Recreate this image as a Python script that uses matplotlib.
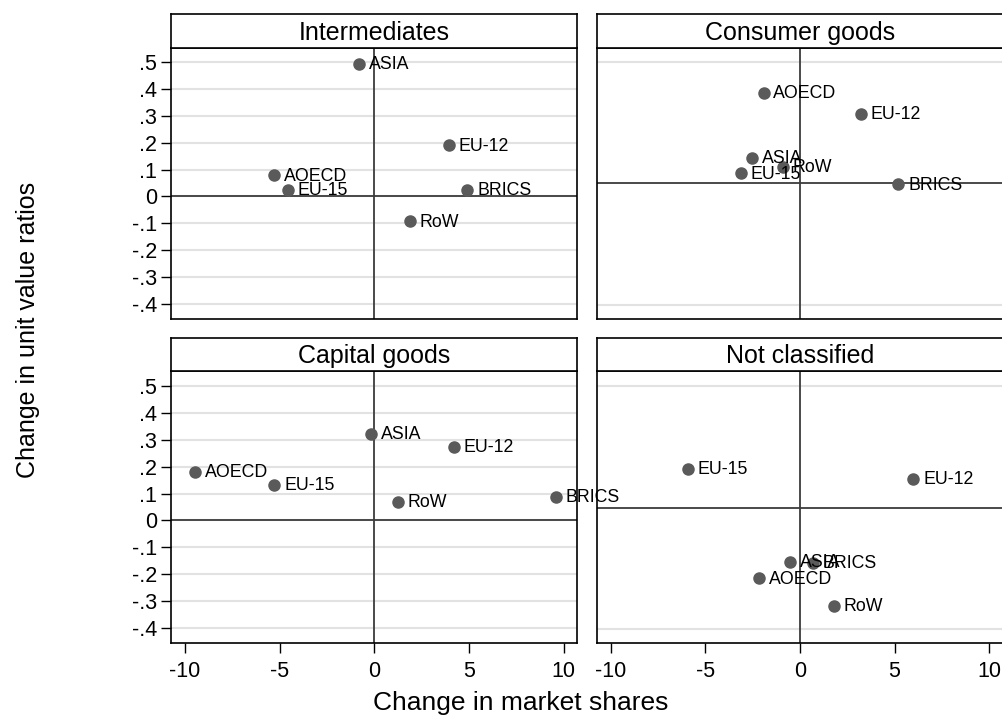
import matplotlib
matplotlib.use("Agg")
import matplotlib.pyplot as plt

plt.rcParams["font.family"] = ["Liberation Sans", "DejaVu Sans"]
plt.rcParams["axes.unicode_minus"] = False

panel_titles = ["Intermediates", "Consumer goods", "Capital goods", "Not classified"]
regions = ["ASIA", "EU-12", "AOECD", "EU-15", "BRICS", "RoW"]

# change in market shares (x) and change in unit value ratios (y), per panel
inter_x = [-0.78, 3.93, -5.27, -4.57, 4.92, 1.90]
inter_y = [0.492, 0.190, 0.078, 0.024, 0.024, -0.093]
consumer_x = [-2.52, 3.21, -1.92, -3.12, 5.20, -0.92]
consumer_y = [0.105, 0.288, 0.373, 0.041, -0.004, 0.068]
capital_x = [-0.17, 4.20, -9.47, -5.27, 9.61, 1.23]
capital_y = [0.321, 0.274, 0.181, 0.131, 0.089, 0.069]
notcl_x = [-0.53, 5.99, -2.17, -5.94, 0.67, 1.78]
notcl_y = [-0.222, 0.118, -0.291, 0.159, -0.226, -0.405]

y_ticks = [0.5, 0.4, 0.3, 0.2, 0.1, 0, -0.1, -0.2, -0.3, -0.4]
y_ticklabels = [".5", ".4", ".3", ".2", ".1", "0", "-.1", "-.2", "-.3", "-.4"]
x_ticks = [-10, -5, 0, 5, 10]
right_grid = [0.5, -0.5]

W, H = 1003, 717
fig = plt.figure(figsize=(W / 100, H / 100), dpi=100)


def px_axes(x0, y0, x1, y1):
    return fig.add_axes([x0 / W, 1 - y1 / H, (x1 - x0) / W, (y1 - y0) / H])


panels = [
    (inter_x, inter_y, (170.7, 577.0), (48.0, 319.0), (14.0, 48.0), "left", "top", (-0.456, 0.552)),
    (consumer_x, consumer_y, (596.7, 1002.6), (48.0, 319.0), (14.0, 48.0), "right", "top", (-0.559, 0.558)),
    (capital_x, capital_y, (170.7, 577.0), (370.7, 643.3), (338.0, 370.7), "left", "bottom", (-0.458, 0.558)),
    (notcl_x, notcl_y, (596.7, 1002.6), (370.7, 643.3), (338.0, 370.7), "right", "bottom", (-0.558, 0.564)),
]

dot_col = "#5a5a5a"
grid_col = "#e2e2e2"
ref_col = "#3c3c3c"

axes = []
for i, (xs, ys, xr, yr, tr, side, row, ylim) in enumerate(panels):
    ax = px_axes(xr[0], yr[0], xr[1], yr[1])
    ax.set_facecolor("none")
    ax.set_xlim(-10.75, 10.71)
    ax.set_ylim(*ylim)
    if side == "left":
        for v in y_ticks:
            ax.axhline(v, color=grid_col, lw=1.5, zorder=1)
        ax.set_yticks(y_ticks)
        ax.set_yticklabels(y_ticklabels)
        ax.tick_params(axis="y", length=7, width=1.0, pad=3, labelsize=15.5)
    else:
        for v in right_grid:
            ax.axhline(v, color=grid_col, lw=1.5, zorder=1)
        ax.set_yticks([])
    if row == "bottom":
        ax.set_xticks(x_ticks)
        ax.tick_params(axis="x", length=7, width=1.0, pad=6, labelsize=15.5)
    else:
        ax.set_xticks([])
    ax.axhline(0, color=ref_col, lw=1.3, zorder=2)
    ax.axvline(0, color=ref_col, lw=1.3, zorder=2)
    ax.plot(xs, ys, "o", color=dot_col, ms=8, mec=dot_col, zorder=3, clip_on=False)
    for name, x, y in zip(regions, xs, ys):
        ax.annotate(name, (x, y), xytext=(7, -0.5), textcoords="offset points",
                    ha="left", va="center", fontsize=12.8, color="black", zorder=4)
    for sp in ax.spines.values():
        sp.set_linewidth(1.2)
        sp.set_color("black")
    axes.append(ax)

    tax = px_axes(xr[0], tr[0], xr[1], tr[1])
    tax.set_xticks([])
    tax.set_yticks([])
    for sp in tax.spines.values():
        sp.set_linewidth(1.2)
    tax.text(0.5, 0.45, panel_titles[i], ha="center", va="center", fontsize=18,
             transform=tax.transAxes)

fig.text(521 / W, 1 - 703 / H, "Change in market shares", ha="center", va="center", fontsize=19)
fig.text(28 / W, 1 - 330 / H, "Change in unit value ratios", ha="center", va="center",
         rotation=90, fontsize=18)

fig.savefig("out.png", dpi=100)
